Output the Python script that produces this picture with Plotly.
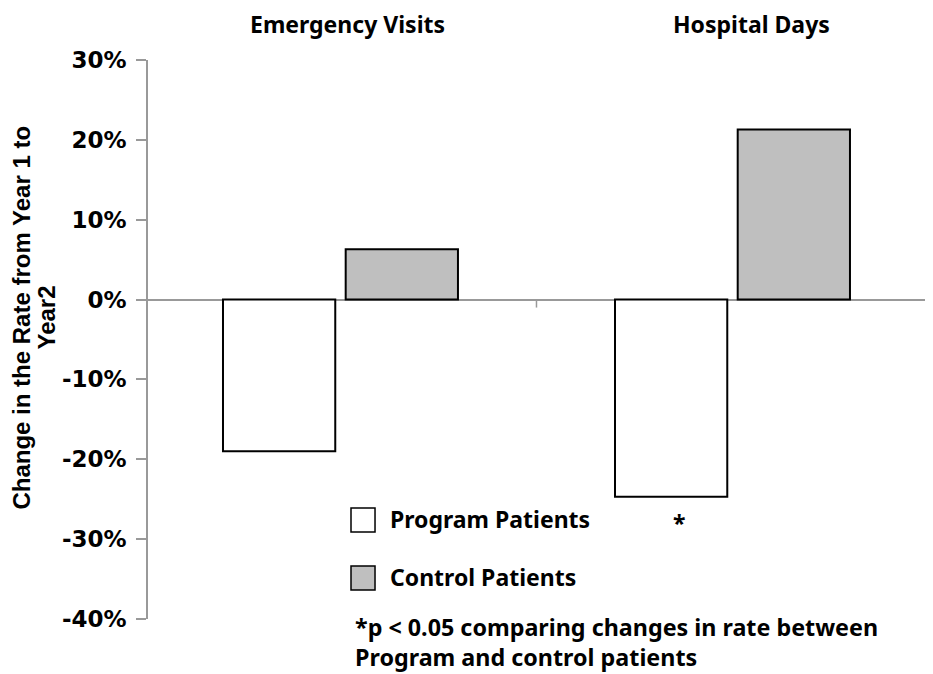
import plotly.graph_objects as go

categories = ["Emergency Visits", "Hospital Days"]
program_values = [-19.0, -24.7]
control_values = [6.3, 21.3]
series_names = ["Program Patients", "Control Patients"]
tick_values = [-40, -30, -20, -10, 0, 10, 20, 30]
tick_labels = ["-40%", "-30%", "-20%", "-10%", "0%", "10%", "20%", "30%"]
star_category = "Hospital Days"
star_value = -28.0
y_title_lines = ["Change in the Rate from Year 1 to", "Year2"]
footnote_lines = ["*p < 0.05 comparing changes in rate between", "Program and control patients"]

TXT = dict(family="Noto Sans", size=23, color="black", weight="bold")
FOOT = dict(family="Noto Sans", size=23.3, color="black", weight="bold")
TICK = dict(family="DejaVu Sans", size=23, color="black", weight="bold")
YT = dict(family="Liberation Sans", size=24, color="black", weight="bold")
AX = "#999999"
GRAY = "#bfbfbf"

fig = go.Figure()
fig.add_trace(go.Bar(x=categories, y=program_values, name=series_names[0],
                     marker=dict(color="white", line=dict(color="black", width=2)),
                     showlegend=False))
fig.add_trace(go.Bar(x=categories, y=control_values, name=series_names[1],
                     marker=dict(color=GRAY, line=dict(color="black", width=2)),
                     showlegend=False))

fig.update_layout(
    width=925, height=666,
    margin=dict(l=140, r=0, t=52, b=55),
    paper_bgcolor="white", plot_bgcolor="white",
    barmode="group", bargap=0.374, bargroupgap=0.085,
    font=TXT,
    xaxis=dict(range=[-0.491, 1.5115], showticklabels=False, ticks="",
               showline=False, showgrid=False, zeroline=False),
    yaxis=dict(range=[-40, 30], tickvals=tick_values, ticktext=tick_labels,
               tickfont=TICK,
               ticks="outside", ticklen=10, tickcolor=AX, tickwidth=1.5,
               showline=True, linecolor=AX, linewidth=1.5,
               showgrid=False, zeroline=True, zerolinecolor=AX, zerolinewidth=1.5,
               ticklabelstandoff=5),
)

# boundary tick on the zero line
fig.add_shape(type="line", xref="x", yref="y", x0=0.5, x1=0.5, y0=0, y1=-1,
              line=dict(color=AX, width=1.5), layer="below")

# category headers
fig.add_annotation(x=categories[0], xref="x", y=1.0644, yref="paper", text=categories[0],
                   showarrow=False, xshift=7, yanchor="middle", font=TXT)
fig.add_annotation(x=categories[1], xref="x", y=1.0644, yref="paper", text=categories[1],
                   showarrow=False, xshift=19.5, yanchor="middle", font=TXT)

# y title (two lines)
fig.add_annotation(x=-0.1610, xref="paper", y=0.5385, yref="paper",
                   text=y_title_lines[0], textangle=-90,
                   showarrow=False, xanchor="center", yanchor="middle", font=YT)
fig.add_annotation(x=-0.1292, xref="paper", y=0.5385, yref="paper",
                   text=y_title_lines[1], textangle=-90,
                   showarrow=False, xanchor="center", yanchor="middle", font=YT)

# significance star
fig.add_annotation(x=star_category, xref="x", y=star_value, yref="y", text="*",
                   showarrow=False, xshift=-53, font=TXT)

# manual legend
fig.add_shape(type="rect", xref="paper", yref="paper", x0=0.2586, x1=0.2892, y0=0.1556, y1=0.1986,
              line=dict(color="black", width=1.5), fillcolor="white")
fig.add_shape(type="rect", xref="paper", yref="paper", x0=0.2586, x1=0.2892, y0=0.0519, y1=0.0948,
              line=dict(color="black", width=1.5), fillcolor=GRAY)
fig.add_annotation(x=0.3057, xref="paper", y=0.1789, yref="paper", text=series_names[0],
                   showarrow=False, xanchor="left", yanchor="middle", font=TXT)
fig.add_annotation(x=0.3057, xref="paper", y=0.0751, yref="paper", text=series_names[1],
                   showarrow=False, xanchor="left", yanchor="middle", font=TXT)

# footnote
fig.add_annotation(x=0.2611, xref="paper", y=-0.0420, yref="paper",
                   text="<br>".join(footnote_lines), align="left",
                   showarrow=False, xanchor="left", yanchor="middle", font=FOOT)

fig.write_html("out.html")
